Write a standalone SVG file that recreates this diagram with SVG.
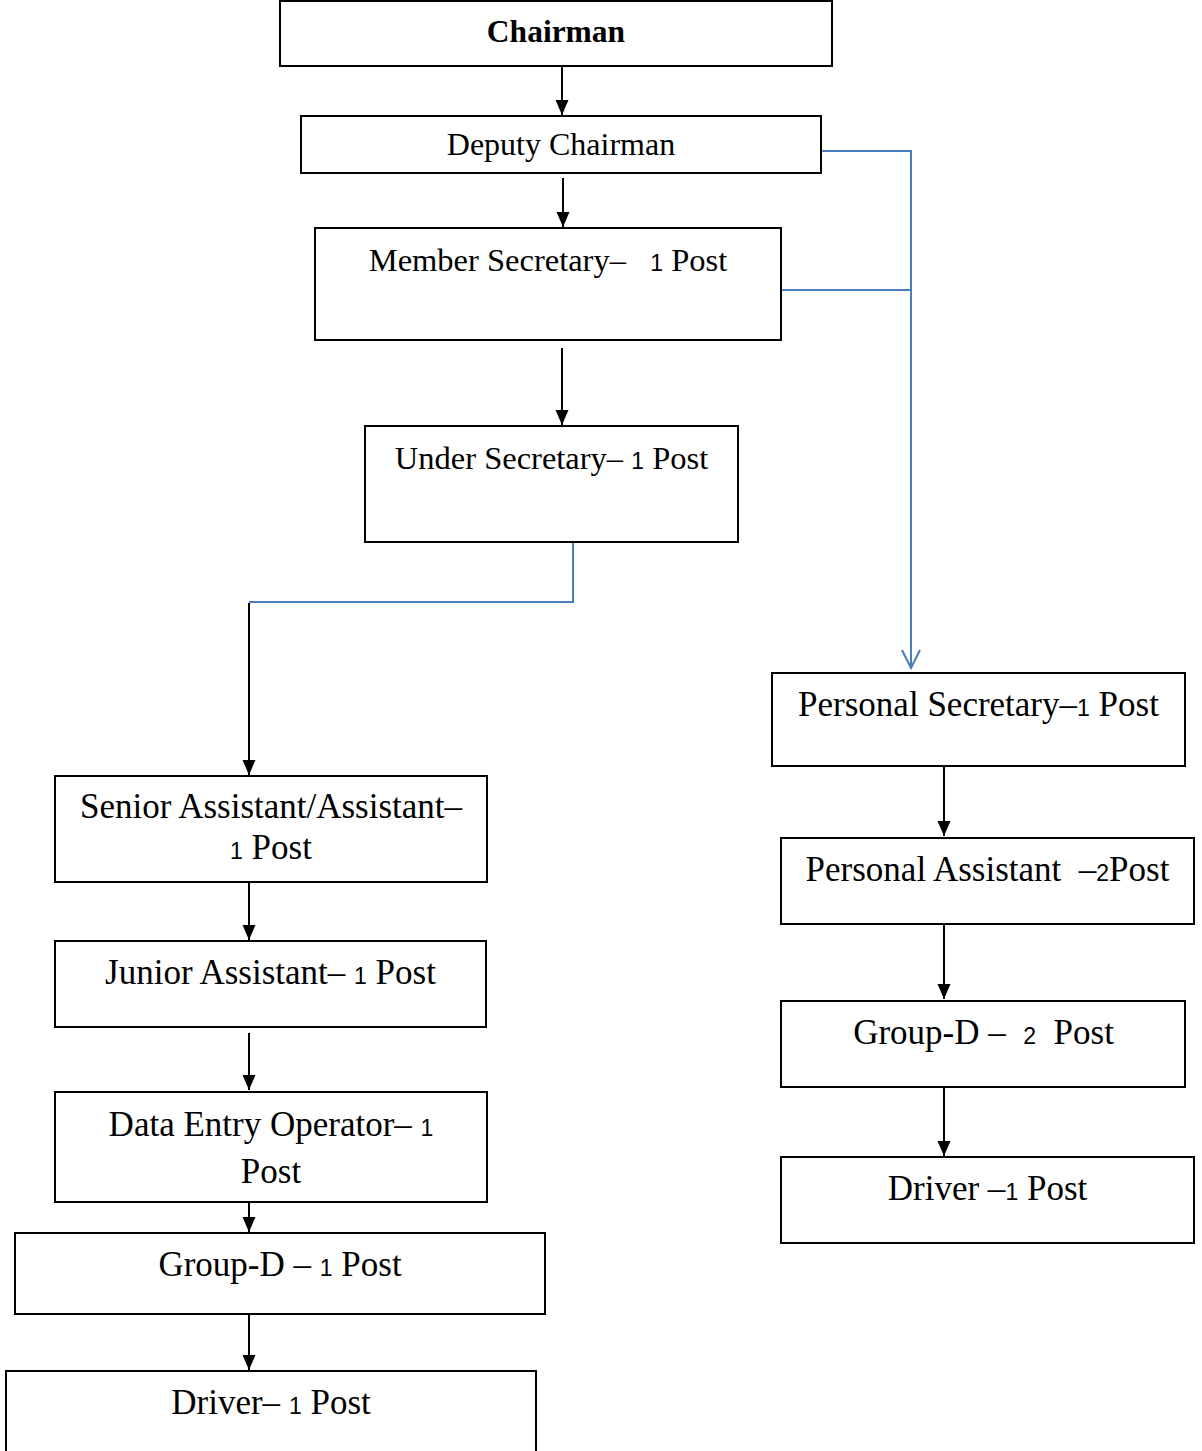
<svg xmlns="http://www.w3.org/2000/svg" width="1202" height="1451" viewBox="0 0 1202 1451">
<style>
.box{fill:#fff;stroke:#000;stroke-width:2}
.t{font-family:"Liberation Serif","Times New Roman",serif;font-size:35px;fill:#000;text-anchor:middle}
.s{font-size:32.5px}
.b{font-weight:bold;font-size:31.5px}
.d{font-family:"Liberation Sans",Arial,sans-serif;font-size:23px}
.k{fill:none;stroke:#000;stroke-width:2}
.bl{fill:none;stroke:#4a7ebb;stroke-width:2}
</style>
<defs>
<marker id="ah" markerWidth="16" markerHeight="14" refX="15" refY="6.5" orient="auto" markerUnits="userSpaceOnUse">
<path d="M0,0 L15,6.5 L0,13 Z" fill="#000"/>
</marker>
<marker id="av" markerWidth="22" markerHeight="22" refX="19" refY="10" orient="auto" markerUnits="userSpaceOnUse">
<path d="M1,1 L19,10 L1,19" fill="none" stroke="#4a7ebb" stroke-width="2"/>
</marker>
</defs>
<rect width="1202" height="1451" fill="#fff"/>
<g id="connectors">
<line class="k" x1="562" y1="66" x2="562" y2="115" marker-end="url(#ah)"/>
<line class="k" x1="563" y1="178" x2="563" y2="227" marker-end="url(#ah)"/>
<line class="k" x1="562" y1="348" x2="562" y2="425" marker-end="url(#ah)"/>
<polyline class="bl" points="573,542 573,602 249,602"/>
<line class="k" x1="249" y1="603" x2="249" y2="775" marker-end="url(#ah)"/>
<polyline class="bl" points="821,151 911,151 911,668" marker-end="url(#av)"/>
<line class="bl" x1="781" y1="290" x2="911" y2="290"/>
<line class="k" x1="944" y1="766" x2="944" y2="836" marker-end="url(#ah)"/>
<line class="k" x1="944" y1="924" x2="944" y2="999" marker-end="url(#ah)"/>
<line class="k" x1="944" y1="1087" x2="944" y2="1156" marker-end="url(#ah)"/>
<line class="k" x1="249" y1="882" x2="249" y2="940" marker-end="url(#ah)"/>
<line class="k" x1="249" y1="1033" x2="249" y2="1090" marker-end="url(#ah)"/>
<line class="k" x1="249" y1="1193" x2="249" y2="1232" marker-end="url(#ah)"/>
<line class="k" x1="249" y1="1314" x2="249" y2="1370" marker-end="url(#ah)"/>
</g>
<g id="chairman"><rect class="box" x="280" y="1" width="552" height="65"/><text class="t b" x="556" y="42">Chairman</text></g>
<g id="deputy-chairman"><rect class="box" x="301" y="116" width="520" height="57"/><text class="t" style="font-size:32px" x="561" y="155">Deputy Chairman</text></g>
<g id="member-secretary"><rect class="box" x="315" y="228" width="466" height="112"/><text class="t s" x="548" y="271" xml:space="preserve">Member Secretary–   <tspan class="d">1</tspan> Post</text></g>
<g id="under-secretary"><rect class="box" x="365" y="426" width="373" height="116"/><text class="t s" x="551.5" y="469">Under Secretary– <tspan class="d">1</tspan> Post</text></g>
<g id="personal-secretary"><rect class="box" x="772" y="673" width="413" height="93"/><text class="t" x="978.5" y="716">Personal Secretary–<tspan class="d">1</tspan> Post</text></g>
<g id="personal-assistant"><rect class="box" x="781" y="838" width="413" height="86"/><text class="t" x="987.5" y="881" xml:space="preserve">Personal Assistant  –<tspan class="d">2</tspan>Post</text></g>
<g id="group-d-right"><rect class="box" x="781" y="1001" width="404" height="86"/><text class="t" x="983.5" y="1044" xml:space="preserve">Group-D –  <tspan class="d">2</tspan>  Post</text></g>
<g id="driver-right"><rect class="box" x="781" y="1157" width="413" height="86"/><text class="t" x="987.5" y="1200">Driver –<tspan class="d">1</tspan> Post</text></g>
<g id="senior-assistant"><rect class="box" x="55" y="776" width="432" height="106"/><text class="t" x="271" y="818">Senior Assistant/Assistant–</text><text class="t" x="271" y="859"><tspan class="d">1</tspan> Post</text></g>
<g id="junior-assistant"><rect class="box" x="55" y="941" width="431" height="86"/><text class="t" x="270.5" y="984">Junior Assistant– <tspan class="d">1</tspan> Post</text></g>
<g id="data-entry-operator"><rect class="box" x="55" y="1092" width="432" height="110"/><text class="t" x="271" y="1136">Data Entry Operator– <tspan class="d">1</tspan></text><text class="t" x="271" y="1183">Post</text></g>
<g id="group-d-left"><rect class="box" x="15" y="1233" width="530" height="81"/><text class="t" x="280" y="1276">Group-D – <tspan class="d">1</tspan> Post</text></g>
<g id="driver-left"><rect class="box" x="6" y="1371" width="530" height="90"/><text class="t" x="271" y="1414">Driver– <tspan class="d">1</tspan> Post</text></g>
</svg>
